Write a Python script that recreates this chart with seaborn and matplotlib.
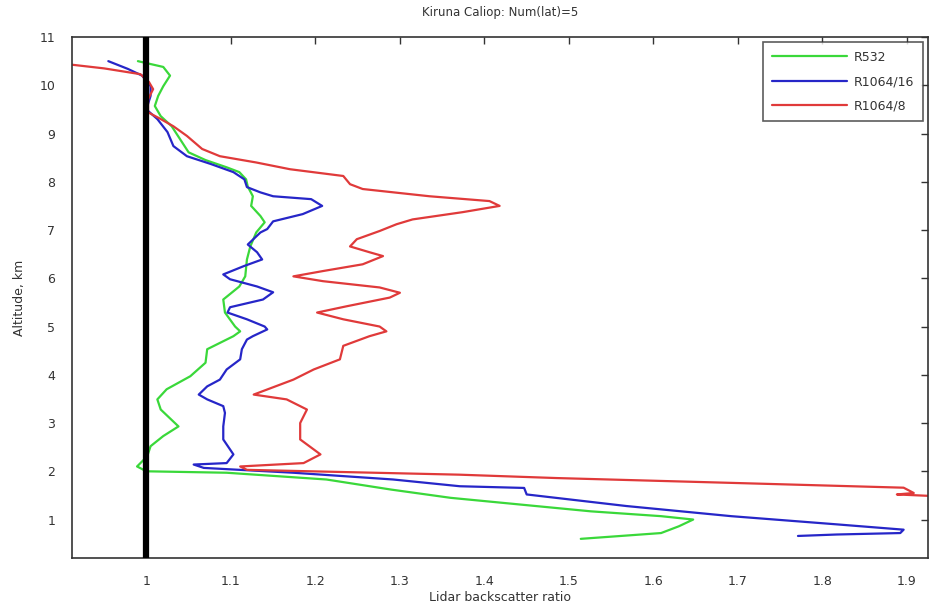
import numpy as np
import pandas as pd
import matplotlib
matplotlib.use("Agg")
import matplotlib.pyplot as plt
import seaborn as sns

# ---- data (altitude km, backscatter ratio) ----
alt_532 = [10.5, 10.38, 10.2, 9.98, 9.78, 9.57, 9.36, 9.15, 8.88, 8.61, 8.45, 8.3, 8.2, 8.05,
           7.9, 7.7, 7.5, 7.29, 7.16, 6.95, 6.66, 6.39, 6.04, 5.83, 5.56, 5.29, 5.0, 4.9, 4.8,
           4.53, 4.25, 3.97, 3.7, 3.49, 3.28, 2.93, 2.73, 2.52, 2.31, 2.1, 2.0, 1.97, 1.83,
           1.62, 1.45, 1.31, 1.17, 1.07, 1.0, 0.86, 0.72, 0.6]
r_532 = [0.99, 1.02, 1.028, 1.02, 1.014, 1.010, 1.017, 1.03, 1.04, 1.05, 1.07, 1.095, 1.11, 1.118,
         1.12, 1.126, 1.124, 1.135, 1.14, 1.13, 1.123, 1.119, 1.117, 1.11, 1.091, 1.093, 1.105, 1.111, 1.103,
         1.072, 1.07, 1.052, 1.024, 1.013, 1.017, 1.038, 1.02, 1.005, 1.001, 0.989, 1.0, 1.095, 1.213,
         1.29, 1.36, 1.443, 1.526, 1.609, 1.647, 1.63, 1.609, 1.514]

alt_1064_16 = [10.5, 10.34, 10.2, 9.98, 9.78, 9.5, 9.3, 9.03, 8.74, 8.53, 8.37, 8.2, 8.05, 7.89,
               7.78, 7.7, 7.64, 7.5, 7.33, 7.18, 7.02, 6.95, 6.7, 6.54, 6.39, 6.25, 6.08, 5.98,
               5.83, 5.71, 5.56, 5.4, 5.29, 5.15, 5.0, 4.94, 4.8, 4.73, 4.53, 4.32, 4.11, 3.9,
               3.76, 3.59, 3.49, 3.35, 3.21, 2.93, 2.66, 2.35, 2.17, 2.14, 2.07, 1.97, 1.83,
               1.69, 1.655, 1.52, 1.28, 1.07, 0.9, 0.79, 0.72, 0.69, 0.66]
r_1064_16 = [0.955, 0.978, 0.995, 1.005, 1.005, 1.0, 1.013, 1.025, 1.032, 1.048, 1.076, 1.103, 1.116, 1.119,
             1.135, 1.15, 1.195, 1.208, 1.185, 1.15, 1.143, 1.135, 1.12, 1.131, 1.137, 1.115, 1.091, 1.099,
             1.131, 1.15, 1.138, 1.099, 1.096, 1.119, 1.14, 1.143, 1.126, 1.119, 1.113, 1.111, 1.095, 1.087,
             1.072, 1.062, 1.072, 1.091, 1.093, 1.091, 1.091, 1.103, 1.095, 1.056, 1.068, 1.174, 1.292,
             1.371, 1.447, 1.45, 1.568, 1.692, 1.817, 1.896, 1.892, 1.817, 1.771]

alt_1064_8 = [10.44, 10.35, 10.23, 10.07, 9.92, 9.71, 9.44, 9.3, 9.15, 8.95, 8.68, 8.53, 8.4, 8.26,
              8.12, 7.95, 7.85, 7.7, 7.6, 7.5, 7.37, 7.22, 7.12, 6.98, 6.81, 6.66, 6.54, 6.46,
              6.29, 6.15, 6.04, 5.94, 5.81, 5.7, 5.6, 5.42, 5.29, 5.15, 5.0, 4.9, 4.8, 4.6, 4.32,
              4.11, 3.9, 3.59, 3.49, 3.28, 3.0, 2.66, 2.35, 2.17, 2.1, 2.03, 1.93, 1.86, 1.76,
              1.66, 1.55, 1.52, 1.48]
r_1064_8 = [0.905, 0.95, 0.993, 1.003, 1.008, 1.002, 1.002, 1.017, 1.032, 1.048, 1.066, 1.087, 1.13, 1.17,
            1.233, 1.241, 1.256, 1.335, 1.406, 1.418, 1.374, 1.315, 1.296, 1.276, 1.249, 1.241, 1.264, 1.28,
            1.256, 1.209, 1.174, 1.209, 1.276, 1.3, 1.288, 1.237, 1.202, 1.233, 1.276, 1.284, 1.264, 1.233, 1.229,
            1.198, 1.174, 1.127, 1.166, 1.19, 1.182, 1.182, 1.206, 1.186, 1.111, 1.119, 1.37, 1.485, 1.692,
            1.896, 1.908, 1.888, 1.94]

series_names = ["R532", "R1064/16", "R1064/8"]
series_colors = ["#3ad83a", "#2626c8", "#e03a3a"]

x_ticks = [1.0, 1.1, 1.2, 1.3, 1.4, 1.5, 1.6, 1.7, 1.8, 1.9]
x_tick_labels = ["1", "1.1", "1.2", "1.3", "1.4", "1.5", "1.6", "1.7", "1.8", "1.9"]
y_ticks = [1, 2, 3, 4, 5, 6, 7, 8, 9, 10, 11]

frames = []
for name, a, r in zip(series_names, [alt_532, alt_1064_16, alt_1064_8],
                      [r_532, r_1064_16, r_1064_8]):
    frames.append(pd.DataFrame({"alt": a, "ratio": r, "series": name,
                                "order": np.arange(len(a))}))
df = pd.concat(frames, ignore_index=True)

sns.set_style("white")
plt.rcParams["font.family"] = ["DejaVu Sans"]

fig = plt.figure(figsize=(9.3, 6.12), dpi=100)
ax = fig.add_axes([0.0774, 0.088, 0.9206, 0.8515])

sns.lineplot(data=df, x="ratio", y="alt", hue="series", hue_order=series_names,
             palette=series_colors, sort=False, estimator=None, units="series",
             lw=1.6, ax=ax, legend=True)

ax.axvline(1.0, color="black", lw=4.5, zorder=5)

ax.set_xlim(0.912, 1.925)
ax.set_ylim(0.2, 11)
ax.set_xticks(x_ticks)
ax.set_xticklabels(x_tick_labels)
ax.set_yticks(y_ticks)

txt = "#333333"
ax.tick_params(direction="in", top=True, right=True, length=5, width=1,
               labelsize=9, colors="#333333", labelcolor=txt, pad=12)
for s in ax.spines.values():
    s.set_color("#333333")
    s.set_linewidth(1.2)

ax.set_xlabel("Lidar backscatter ratio", fontsize=9, color=txt, labelpad=2)
ax.set_ylabel("Altitude, km", fontsize=9, color=txt, labelpad=10)
ax.set_title("Kiruna Caliop: Num(lat)=5", fontsize=8.5, color=txt, pad=15)

leg = ax.legend(loc="upper right", fontsize=9, frameon=True, fancybox=False,
                edgecolor="#333333", borderpad=0.7, handlelength=6.0,
                labelspacing=0.9, borderaxespad=0.4, handletextpad=0.6)
leg.get_frame().set_linewidth(1.2)
for t in leg.get_texts():
    t.set_color(txt)

fig.savefig("out.png", dpi=100)
